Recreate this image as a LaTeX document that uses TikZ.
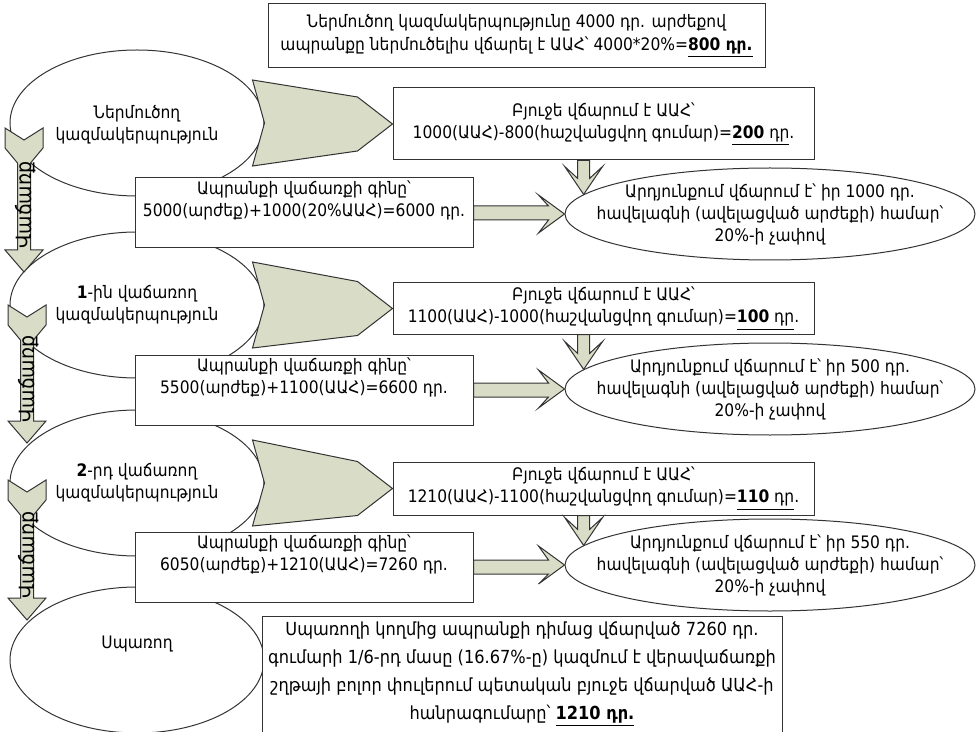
\documentclass[tikz,border=0pt]{standalone}
\usepackage{fontspec}
\setmainfont{DejaVu Sans}[FakeStretch=0.9]
\usetikzlibrary{shapes.geometric,calc}
\definecolor{ink}{HTML}{333333}
\definecolor{sage}{HTML}{D9DCC7}
\tikzset{
  txt/.style={align=center,inner sep=0pt,font=\fontsize{8.6}{11}\selectfont},
  tbox/.style={draw=ink,line width=0.5pt,fill=white,rectangle,inner sep=0pt},
  oval/.style={draw=ink,line width=0.5pt,fill=white,ellipse,inner sep=0pt},
  blk/.style={draw=ink,line width=0.5pt,fill=sage,line join=miter},
}
% block arrow to the right: tail point, tip point
\newcommand\rightarr[2]{%
  \draw[blk] let \p1=(#1), \p2=(#2) in
    (\x1,\y1+3.5pt) -- (\x2-8pt,\y1+3.5pt) -- (\x2-13pt,\y2+9.5pt) -- (\x2,\y2)
    -- (\x2-13pt,\y2-9.5pt) -- (\x2-8pt,\y1-3.5pt) -- (\x1,\y1-3.5pt) -- cycle;}
% block arrow downwards: tail point, tip point
\newcommand\downarr[2]{%
  \draw[blk] let \p1=(#1), \p2=(#2) in
    (\x1-3pt,\y1) -- (\x1-3pt,\y2+8pt) -- (\x2-9.5pt,\y2+14pt) -- (\x2,\y2)
    -- (\x2+9.5pt,\y2+14pt) -- (\x1+3pt,\y2+8pt) -- (\x1+3pt,\y1) -- cycle;}
% big chevron: notch point, tip point
\newcommand\chevron[2]{%
  \draw[blk] let \p1=(#1), \p2=(#2) in
    (\x1,\y1) -- (\x1-6pt,\y1+21.5pt) -- (\x2-17.5pt,\y2+13.5pt) -- (\x2,\y2)
    -- (\x2-17.5pt,\y2-13.5pt) -- (\x1-6pt,\y1-21.5pt) -- cycle;}
% long sale arrow on the left: top, tip, name of its label
\newcommand\salearr[3]{%
  \draw[blk] let \p1=(#1), \p2=(#2) in
    (\x1,\y1-6pt) -- (\x1+9.5pt,\y1) -- (\x1+9.5pt,\y1-10pt) -- (\x1+3.25pt,\y1-17.5pt)
    -- (\x1+3.25pt,\y2+11pt) -- (\x1+9.5pt,\y2+11pt) -- (\x2,\y2) -- (\x1-9.5pt,\y2+11pt)
    -- (\x1-3.25pt,\y2+11pt) -- (\x1-3.25pt,\y1-17.5pt) -- (\x1-9.5pt,\y1-10pt)
    -- (\x1-9.5pt,\y1) -- cycle;
  \node[txt,rotate=90,font=\fontsize{10.5}{12}\selectfont] (#3)
    at ($(#1)!0.5!(#2)+(2,5)$) {Վաճառք};}

\begin{document}
\begin{tikzpicture}[x=0.5pt,y=-0.5pt]
\useasboundingbox (0,0) rectangle (978,732);
\clip (0,0) rectangle (978,732);

% ---------------------------------------------------------------- importer note
\node[tbox,txt,font=\fontsize{8.6}{11.5}\selectfont,minimum width=248.5pt,minimum height=32pt]
  (imp) at (516.5,36)
  {Ներմուծող կազմակերպությունը 4000 դր. արժեքով\\
   ապրանքը ներմուծելիս վճարել է ԱԱՀ՝ 4000*20\%=\underline{\textbf{800 դր.}}};

% ---------------------------------------------------------------- chain of firms
\node[oval,minimum width=127pt,minimum height=73pt] (e1) at (137,123) {};
\node[txt] (e1t) at (137,125) {Ներմուծող\\կազմակերպություն};
\node[oval,minimum width=127pt,minimum height=73pt] (e2) at (137,305) {};
\node[txt] (e2t) at (137,305) {\textbf{1}-ին վաճառող\\կազմակերպություն};
\node[oval,minimum width=127pt,minimum height=73pt] (e3) at (137,483) {};
\node[txt] (e3t) at (137,483) {\textbf{2}-րդ վաճառող\\կազմակերպություն};
\node[oval,minimum width=127pt,minimum height=73pt] (e4) at (137,660) {};
\node[txt] (e4t) at (137,644) {Սպառող};

% ---------------------------------------------------------------- budget boxes
\node[tbox,txt,minimum width=210.5pt,minimum height=36pt] (b1) at (603.5,124)
  {Բյուջե վճարում է ԱԱՀ՝\\1000(ԱԱՀ)-800(հաշվանցվող գումար)=\underline{\textbf{200} դր}.};
\node[tbox,txt,minimum width=210.5pt,minimum height=25.5pt] (b2) at (603.5,308.5)
  {Բյուջե վճարում է ԱԱՀ՝\\1100(ԱԱՀ)-1000(հաշվանցվող գումար)=\underline{\textbf{100} դր}.};
\node[tbox,txt,minimum width=210.5pt,minimum height=26.5pt] (b3) at (603.5,488.5)
  {Բյուջե վճարում է ԱԱՀ՝\\1210(ԱԱՀ)-1100(հաշվանցվող գումար)=\underline{\textbf{110} դր}.};

\chevron{e1.east}{b1.west}
\chevron{e2.east}{b2.west}
\chevron{e3.east}{b3.west}

% ---------------------------------------------------------------- sale prices
\node[tbox,minimum width=169pt,minimum height=35pt] (p1) at (304,213) {};
\node[txt,anchor=north] (p1t) at ([yshift=-1.5pt]p1.north)
  {Ապրանքի վաճառքի գինը՝\\5000(արժեք)+1000(20\%ԱԱՀ)=6000 դր.};
\node[tbox,minimum width=169pt,minimum height=35pt] (p2) at (304,390) {};
\node[txt,anchor=north] (p2t) at ([yshift=-1.5pt]p2.north)
  {Ապրանքի վաճառքի գինը՝\\5500(արժեք)+1100(ԱԱՀ)=6600 դր.};
\node[tbox,minimum width=169pt,minimum height=35pt] (p3) at (304,567) {};
\node[txt,anchor=north] (p3t) at ([yshift=-1.5pt]p3.north)
  {Ապրանքի վաճառքի գինը՝\\6050(արժեք)+1210(ԱԱՀ)=7260 դր.};

% ---------------------------------------------------------------- value added
\node[oval,minimum width=205pt,minimum height=46pt] (r1) at (770,214) {};
\node[txt] (r1t) at (r1) {Արդյունքում վճարում է՝ իր 1000 դր.\\
  հավելագնի (ավելացված արժեքի) համար՝\\20\%-ի չափով};
\node[oval,minimum width=205pt,minimum height=46pt] (r2) at (770,389) {};
\node[txt] (r2t) at (r2) {Արդյունքում վճարում է՝ իր 500 դր.\\
  հավելագնի (ավելացված արժեքի) համար՝\\20\%-ի չափով};
\node[oval,minimum width=205pt,minimum height=46pt] (r3) at (770,565) {};
\node[txt] (r3t) at (r3) {Արդյունքում վճարում է՝ իր 550 դր.\\
  հավելագնի (ավելացված արժեքի) համար՝\\20\%-ի չափով};

\rightarr{p1.east}{r1.west}
\rightarr{p2.east}{r2.west}
\rightarr{p3.east}{r3.west}
\downarr{b1.south -| r1.174}{r1.174}
\downarr{b2.south -| r2.174}{r2.174}
\downarr{b3.south -| r3.174}{r3.174}

% ---------------------------------------------------------------- sale arrows
\coordinate (v1a) at (24,128);  \coordinate (v1b) at (24,272);
\coordinate (v2a) at (27,305);  \coordinate (v2b) at (27,443);
\coordinate (v3a) at (27,480);  \coordinate (v3b) at (27,620);
\salearr{v1a}{v1b}{s1}
\salearr{v2a}{v2b}{s2}
\salearr{v3a}{v3b}{s3}

% ---------------------------------------------------------------- consumer note
\node[tbox,minimum width=260pt,minimum height=70pt,anchor=north] (cons) at (522,616) {};
\node[txt,anchor=north,font=\fontsize{9}{14}\selectfont] (const) at (522,621)
  {Սպառողի կողմից ապրանքի դիմաց վճարված 7260 դր.\\
   գումարի 1/6-րդ մասը (16.67\%-ը) կազմում է վերավաճառքի\\
   շղթայի բոլոր փուլերում պետական բյուջե վճարված ԱԱՀ-ի\\
   հանրագումարը՝ \underline{\textbf{1210 դր.}}};

\end{tikzpicture}
\end{document}
